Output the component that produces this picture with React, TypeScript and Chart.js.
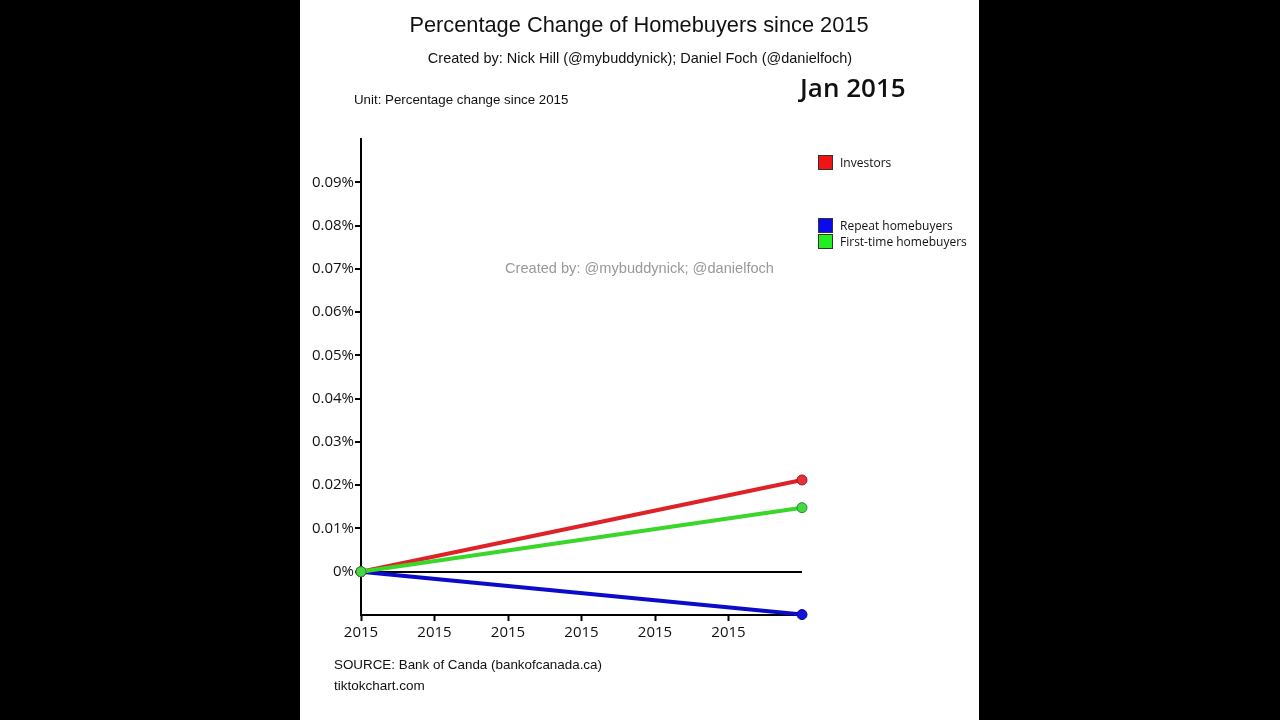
import React, { useEffect, useRef } from "react";
import { Chart, registerables } from "chart.js";

Chart.register(...registerables);

// ---- data ----
const xPositions = [0, 6];
const xTickLabels = ["2015", "2015", "2015", "2015", "2015", "2015"];
const yTickValues = [0, 0.01, 0.02, 0.03, 0.04, 0.05, 0.06, 0.07, 0.08, 0.09];
const seriesNames = ["First-time homebuyers", "Investors", "Repeat homebuyers"];
const firstTimeValues = [0, 0.0148];
const investorValues = [0, 0.0212];
const repeatValues = [0, -0.0099];

const lineColors = ["#3ad62a", "#de2228", "#0b0bc8"];
const pointColors = ["#44d844", "#e8303a", "#1414d8"];
const pointBorders = ["#2a8a2a", "#a01818", "#0a0a80"];

const legendItems = [
  { name: "Investors", color: "#f01414", top: 162 },
  { name: "Repeat homebuyers", color: "#0a0af0", top: 225 },
  { name: "First-time homebuyers", color: "#22ee22", top: 241 },
];

const ARIAL = "'Liberation Sans', Arial, sans-serif";
const SEGOE = "'Open Sans', 'Noto Sans', sans-serif";

export default function App() {
  const canvasRef = useRef<HTMLCanvasElement | null>(null);

  useEffect(() => {
    const canvas = canvasRef.current;
    if (!canvas) return;
    const valuesList = [firstTimeValues, investorValues, repeatValues];
    const chart = new Chart(canvas, {
      type: "line",
      data: {
        datasets: seriesNames.map((name, i) => ({
          label: name,
          data: xPositions.map((x, j) => ({ x, y: valuesList[i][j] })),
          borderColor: lineColors[i],
          backgroundColor: pointColors[i],
          pointBackgroundColor: pointColors[i],
          pointBorderColor: pointBorders[i],
          pointBorderWidth: 1,
          pointRadius: 5,
          borderWidth: 4,
          tension: 0,
          clip: false as any,
        })),
      },
      options: {
        animation: false,
        responsive: false,
        maintainAspectRatio: false,
        layout: { padding: { top: 139, right: 177, bottom: 0, left: 0 } },
        plugins: { legend: { display: false }, tooltip: { enabled: false } },
        scales: {
          x: {
            type: "linear",
            min: 0,
            max: 6,
            afterBuildTicks: (scale: any) => {
              scale.ticks = xTickLabels.map((_, i) => ({ value: i }));
            },
            afterFit: (scale: any) => {
              scale.height = 105;
            },
            ticks: {
              color: "#111",
              font: { family: SEGOE, size: 15 },
              padding: 3,
              maxRotation: 0,
              autoSkip: false,
              callback: (v: any) => xTickLabels[Number(v)] ?? "",
            },
            grid: {
              drawOnChartArea: false,
              drawTicks: true,
              tickLength: 6,
              tickColor: "#000",
              tickWidth: 2,
            },
            border: { color: "#000", width: 2 },
          },
          y: {
            type: "linear",
            min: -0.01,
            max: 0.1,
            afterBuildTicks: (scale: any) => {
              scale.ticks = yTickValues.map((v) => ({ value: v }));
            },
            afterFit: (scale: any) => {
              scale.width = 61;
            },
            ticks: {
              color: "#111",
              font: { family: SEGOE, size: 15 },
              padding: 1,
              autoSkip: false,
              callback: (v: any) => (Number(v) === 0 ? "0%" : Number(v).toFixed(2) + "%"),
            },
            grid: {
              drawOnChartArea: true,
              color: (ctx: any) => (ctx.tick && ctx.tick.value === 0 ? "#000" : "rgba(0,0,0,0)"),
              lineWidth: 2,
              drawTicks: true,
              tickLength: 6,
              tickColor: "#000",
              tickWidth: 2,
            },
            border: { color: "#000", width: 2 },
          },
        },
      },
    });
    return () => chart.destroy();
  }, []);

  const text = (
    content: string,
    left: number,
    cy: number,
    size: number,
    family: string,
    color = "#111",
    center = false,
    weight = 400
  ) => (
    <div
      style={{
        position: "absolute",
        left,
        top: cy - size * 0.6,
        fontSize: size,
        lineHeight: `${size * 1.2}px`,
        fontFamily: family,
        color,
        fontWeight: weight,
        whiteSpace: "nowrap",
        transform: center ? "translateX(-50%)" : undefined,
      }}
    >
      {content}
    </div>
  );

  return (
    <div style={{ position: "fixed", left: 0, top: 0, width: 1280, height: 720, background: "#000", overflow: "hidden" }}>
      <div style={{ position: "absolute", left: 300, top: 0, width: 679, height: 720, background: "#fff" }}>
        <canvas ref={canvasRef} width={679} height={720} style={{ position: "absolute", left: 0, top: 0, width: 679, height: 720 }} />
        {text("Percentage Change of Homebuyers since 2015", 339, 25, 21.8, ARIAL, "#111", true)}
        {text("Created by: Nick Hill (@mybuddynick); Daniel Foch (@danielfoch)", 340, 58.5, 14.5, ARIAL, "#111", true)}
        {text("Unit: Percentage change since 2015", 54, 99.5, 13.3, ARIAL)}
        {text("Jan 2015", 500, 87.5, 26, SEGOE, "#111", false, 600)}
        {text("Created by: @mybuddynick; @danielfoch", 339.5, 268.5, 14.6, ARIAL, "#999", true)}
        {text("SOURCE: Bank of Canda (bankofcanada.ca)", 34, 665.5, 13.4, ARIAL)}
        {text("tiktokchart.com", 34, 686.5, 13.5, ARIAL)}
        {legendItems.map((it) => (
          <React.Fragment key={it.name}>
            <div
              style={{
                position: "absolute",
                left: 518,
                top: it.top - 7,
                width: 13,
                height: 13,
                background: it.color,
                border: "1px solid #333",
              }}
            />
            {text(it.name, 540, it.top + 1, 12, SEGOE)}
          </React.Fragment>
        ))}
      </div>
    </div>
  );
}
